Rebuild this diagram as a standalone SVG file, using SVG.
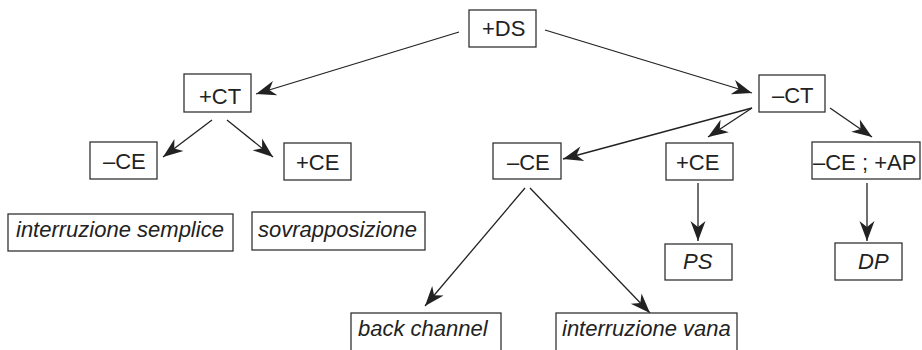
<svg xmlns="http://www.w3.org/2000/svg" width="922" height="350" viewBox="0 0 922 350">
<style>
.box{fill:#fff;stroke:#333;stroke-width:1.3}
.t{font-family:"Liberation Sans",Arial,sans-serif;font-size:22px;fill:#222}
.i{font-style:italic}
.c{stroke:#222;stroke-width:1.3;fill:none;marker-end:url(#ah)}
</style>
<defs>
<marker id="ah" markerUnits="userSpaceOnUse" viewBox="-21 -9 22 18" refX="0" refY="0" markerWidth="22" markerHeight="18" orient="auto">
<path d="M0,0 L-20,-7.5 L-14,0 L-20,7.5 Z" fill="#222"/>
</marker>
</defs>
<rect width="922" height="350" fill="#fff"/>
<g id="connectors">
<line class="c" x1="459" y1="32" x2="256" y2="94"/>
<line class="c" x1="545" y1="30" x2="752" y2="93"/>
<line class="c" x1="212" y1="120" x2="163" y2="157"/>
<line class="c" x1="227" y1="120" x2="273" y2="157"/>
<line class="c" x1="752" y1="108" x2="563" y2="159"/>
<line class="c" x1="752" y1="108" x2="708" y2="137"/>
<line class="c" x1="830" y1="108" x2="872" y2="137"/>
<line class="c" x1="698" y1="183" x2="698" y2="241"/>
<line class="c" x1="867" y1="183" x2="867" y2="241"/>
<line class="c" x1="525" y1="188" x2="425" y2="306"/>
<line class="c" x1="530" y1="188" x2="650" y2="313"/>
</g>
<g id="n-ds"><rect class="box" x="469" y="10" width="67" height="37"/><text class="t" x="482" y="36">+DS</text></g>
<g id="n-ct-plus"><rect class="box" x="184" y="74" width="67" height="38"/><text class="t" x="199" y="104">+CT</text></g>
<g id="n-ct-minus"><rect class="box" x="759" y="75" width="66" height="37"/><text class="t" x="772" y="103">–CT</text></g>
<g id="n-ce-minus-l"><rect class="box" x="90" y="142" width="67" height="37"/><text class="t" x="103" y="169">–CE</text></g>
<g id="n-ce-plus-l"><rect class="box" x="284" y="143" width="67" height="37"/><text class="t" x="296" y="170">+CE</text></g>
<g id="n-ce-minus-m"><rect class="box" x="493" y="143" width="68" height="36"/><text class="t" x="507" y="170">–CE</text></g>
<g id="n-ce-plus-m"><rect class="box" x="666" y="143" width="67" height="37"/><text class="t" x="676" y="170">+CE</text></g>
<g id="n-ce-ap"><rect class="box" x="812" y="142" width="108" height="37"/><text class="t" x="813" y="170">–CE ; +AP</text></g>
<g id="n-int-semplice"><rect class="box" x="8" y="214" width="225" height="37"/><text class="t i" x="16" y="237">interruzione semplice</text></g>
<g id="n-sovrapp"><rect class="box" x="252" y="212" width="173" height="38"/><text class="t i" x="258" y="237">sovrapposizione</text></g>
<g id="n-ps"><rect class="box" x="665" y="244" width="67" height="36"/><text class="t i" x="683" y="269">PS</text></g>
<g id="n-dp"><rect class="box" x="835" y="243" width="67" height="37"/><text class="t i" x="858" y="269">DP</text></g>
<g id="n-back"><rect class="box" x="351" y="313" width="150" height="50"/><text class="t i" x="358" y="336">back channel</text></g>
<g id="n-int-vana"><rect class="box" x="556" y="313" width="181" height="50"/><text class="t i" x="562" y="336">interruzione vana</text></g>
</svg>
